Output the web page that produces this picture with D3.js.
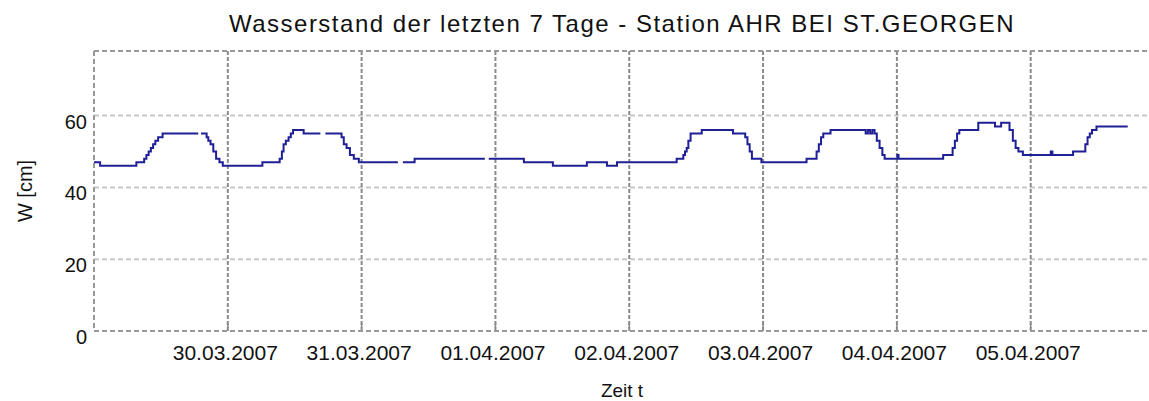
<!DOCTYPE html>
<html>
<head>
<meta charset="utf-8">
<script src="https://cdn.jsdelivr.net/npm/d3@7"></script>
<style>
  body { margin: 0; background: #fff; }
  text { font-family: "Liberation Sans", Arial, sans-serif; fill: #111; }
</style>
</head>
<body>
<div id="chart"></div>
<script>
// Wasserstand, Stunden seit 29.03.2007 00:00 (null = Lücke)
const hours = [
  0, 1.1, 7.6, 9.0, 9.4, 9.8, 10.2, 10.6, 11.0, 11.5, 12.3, 18.7, 18.8, 19.2,
  20.2, 20.5, 20.9, 21.4, 21.9, 22.5, 23.1, 30.2, 33.3, 33.7, 34.0, 34.4, 34.9,
  35.3, 35.7, 37.6, 40.6, 40.7, 41.5, 44.4, 44.8, 45.3, 45.9, 46.6, 47.5,
  54.5, 54.6, 55.4, 57.5, 70.1, 70.2, 70.8, 77.1, 82.3, 88.4, 92.0, 93.8,
  104.5, 105.7, 106.0, 106.3, 106.6, 107.0, 109.0, 114.6, 116.8, 117.2, 117.6,
  118.0, 119.7, 127.8, 129.6, 130.0, 130.4, 130.8, 132.1, 138.4, 138.8, 139.2,
  139.6, 140.0, 140.4, 140.9, 141.4, 141.8, 144.1, 144.3, 152.3, 154.0, 154.4,
  154.8, 155.2, 158.6, 161.6, 162.7, 164.2, 164.8, 165.3, 165.8, 166.6, 171.6,
  171.9, 175.6, 177.8, 178.2, 178.6, 179.0, 179.8, 185.4
];
const levels = [
  47, 46, 47, 48, 49, 50, 51, 52, 53, 54, 55, 55, null, 55,
  54, 53, 52, 50, 48, 47, 46, 47, 48, 50, 52, 53, 54,
  55, 56, 55, 55, null, 55, 54, 52, 51, 49, 48, 47,
  47, null, 47, 48, 48, null, 48, 47, 46, 47, 46, 47,
  48, 49, 50, 51, 53, 55, 56, 55, 54, 52, 50,
  48, 47, 48, 50, 52, 54, 55, 56, 55, 56, 55,
  56, 55, 53, 51, 49, 48, 49, 48, 49, 51, 53,
  55, 56, 58, 57, 58, 56, 53, 51, 50, 49, 50,
  49, 50, 52, 54, 55, 56, 57, 57
];
const xTickLabels = ["30.03.2007", "31.03.2007", "01.04.2007", "02.04.2007", "03.04.2007", "04.04.2007", "05.04.2007"];
const yTicks = [0, 20, 40, 60];

const W = 1149, H = 401;
const margin = { top: 51, right: -1, bottom: 70, left: 94 };
const width = W - margin.left - margin.right;
const height = H - margin.top - margin.bottom;

const start = new Date(2007, 2, 29, 0, 0);
const parseDay = d3.timeParse("%d.%m.%Y");
const toDate = h => new Date(start.getTime() + h * 3600e3);

const data = hours.map((h, i) => ({ t: toDate(h), v: levels[i] }));

const svg = d3.select("#chart")
    .append("svg")
    .attr("width", W)
    .attr("height", H);

const g = svg.append("g")
    .attr("transform", `translate(${margin.left},${margin.top})`);

const x = d3.scaleTime()
    .domain([start, toDate(189.4)])
    .range([0, width]);

const y = d3.scaleLinear()
    .domain([0, 78])
    .range([height, 0]);

const tickDates = xTickLabels.map(parseDay);

// horizontal grid
g.append("g")
    .selectAll("line")
    .data(yTicks.filter(d => d > 0))
    .join("line")
    .attr("x1", 0).attr("x2", width)
    .attr("y1", d => y(d)).attr("y2", d => y(d))
    .attr("stroke", "#c8c8c8")
    .attr("stroke-width", 2)
    .attr("stroke-dasharray", "5,3");

// vertical grid
g.append("g")
    .selectAll("line")
    .data(tickDates)
    .join("line")
    .attr("x1", d => x(d)).attr("x2", d => x(d))
    .attr("y1", 0).attr("y2", height)
    .attr("stroke", "#8a8a8a")
    .attr("stroke-width", 2)
    .attr("stroke-dasharray", "4,2");

// frame
const frame = g.append("g")
    .attr("stroke", "#999")
    .attr("stroke-width", 2)
    .attr("stroke-dasharray", "5,3");
frame.append("line").attr("x1", 0).attr("x2", width).attr("y1", 0).attr("y2", 0);
frame.append("line").attr("x1", 0).attr("x2", 0).attr("y1", 0).attr("y2", height);
frame.append("line").attr("x1", 0).attr("x2", width).attr("y1", height).attr("y2", height);

// x axis
const xAxis = g.append("g")
    .attr("transform", `translate(0,${height})`)
    .call(d3.axisBottom(x)
        .tickValues(tickDates)
        .tickFormat(d3.timeFormat("%d.%m.%Y"))
        .tickSize(0)
        .tickPadding(14));
xAxis.select(".domain").remove();
xAxis.selectAll("text")
    .attr("font-size", "21px")
    .attr("fill", "#111")
    .attr("dx", "-3px");

g.append("g")
    .selectAll("line")
    .data(tickDates)
    .join("line")
    .attr("x1", d => x(d)).attr("x2", d => x(d))
    .attr("y1", height - 8).attr("y2", height - 3)
    .attr("stroke", "#888")
    .attr("stroke-width", 1.5);

// y axis
const yAxis = g.append("g")
    .call(d3.axisLeft(y)
        .tickValues(yTicks)
        .tickSize(0)
        .tickPadding(7));
yAxis.select(".domain").remove();
yAxis.selectAll("text")
    .attr("font-size", "20px")
    .attr("fill", "#111")
    .attr("dy", "0.62em");

// line
const line = d3.line()
    .defined(d => d.v !== null)
    .x(d => x(d.t))
    .y(d => y(d.v))
    .curve(d3.curveStepAfter);

g.append("path")
    .datum(data)
    .attr("fill", "none")
    .attr("stroke", "#1f1f96")
    .attr("stroke-width", 2)
    .attr("d", line);

// titles
svg.append("text")
    .attr("x", 622)
    .attr("y", 32)
    .attr("text-anchor", "middle")
    .attr("font-size", "24px")
    .attr("letter-spacing", "1.5px")
    .text("Wasserstand der letzten 7 Tage - Station AHR BEI ST.GEORGEN");

svg.append("text")
    .attr("x", 622)
    .attr("y", 397)
    .attr("text-anchor", "middle")
    .attr("font-size", "19px")
    .text("Zeit t");

svg.append("text")
    .attr("transform", "rotate(-90)")
    .attr("x", -191)
    .attr("y", 32)
    .attr("text-anchor", "middle")
    .attr("font-size", "20px")
    .text("W [cm]");
</script>
</body>
</html>
